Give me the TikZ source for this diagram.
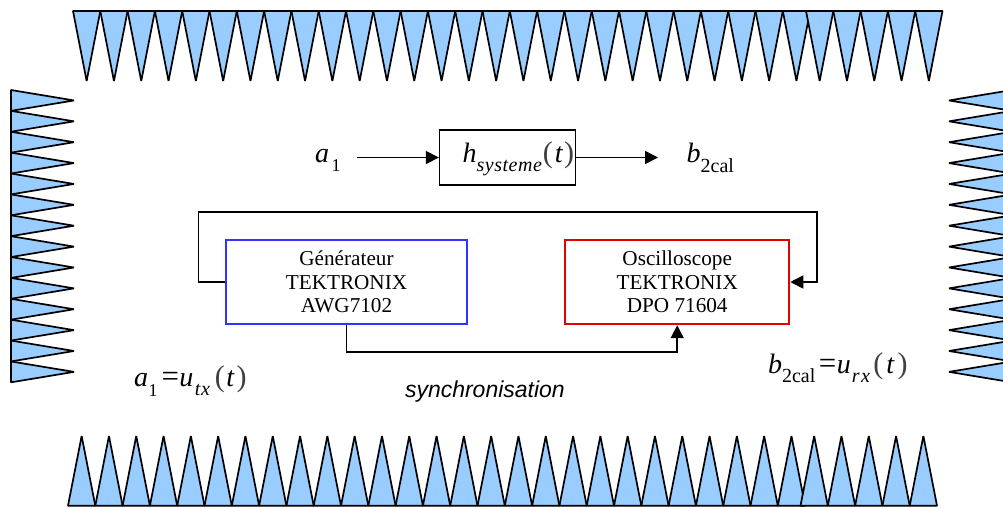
\documentclass[tikz,border=0pt]{standalone}
\usepackage{fontspec}
\setmainfont{Liberation Serif}
\setsansfont{Liberation Sans}
\usetikzlibrary{arrows.meta}
\definecolor{absorb}{HTML}{99CCFF}
\newcommand\mainit{\fontsize{28}{30}\selectfont\itshape}
\newcommand\parm{\fontsize{30}{30}\selectfont\upshape\color{black!75}}
\newcommand\opm{\fontsize{31}{30}\selectfont\upshape}
\newcommand\subu[1]{\lower9.5pt\hbox{\fontsize{18}{20}\selectfont\upshape #1}}
\newcommand\subc{\lower9.5pt\hbox{\fontsize{20}{20}\selectfont\upshape 2cal}}
\newcommand\subi[1]{\lower9pt\hbox{\fontsize{20}{20}\selectfont\itshape #1}}
\tikzset{
  tooth/.style={fill=absorb,draw=black,line width=1.7pt,line join=bevel},
  wire/.style={draw=black,line width=1.6pt},
  arrowed/.style={wire,-{Triangle[length=13pt,width=13pt]}},
  formula/.style={anchor=base west,inner sep=0pt,outer sep=0pt},
  instrument/.style={draw,line width=1.8pt,inner sep=0pt,align=center,
    font=\fontsize{21.2}{23.5}\selectfont},
}
\begin{document}
\begin{tikzpicture}[x=1pt,y=-1pt]
\useasboundingbox (0,0) rectangle (1003,507);
\begin{scope}
\clip (0,0) rectangle (1003,507);
% top row
\foreach \k in {0,...,26} {
  \draw[tooth] ({73+27.3*\k},11) -- ({73+27.3*(\k+1)},11) -- ({73+27.3*(\k+0.5)},81) -- cycle;
}
\foreach \k in {0,...,4} {
  \draw[tooth] ({806+27.3*\k},11) -- ({806+27.3*(\k+1)},11) -- ({806+27.3*(\k+0.5)},81) -- cycle;
}
% bottom row
\foreach \k in {0,...,26} {
  \draw[tooth] ({68+27.3*\k},505.7) -- ({68+27.3*(\k+1)},505.7) -- ({68+27.3*(\k+0.5)},436) -- cycle;
}
\foreach \k in {0,...,4} {
  \draw[tooth] ({800.5+27.3*\k},505.7) -- ({800.5+27.3*(\k+1)},505.7) -- ({800.5+27.3*(\k+0.5)},436) -- cycle;
}
% left and right columns
\foreach \k in {0,...,13} {
  \draw[tooth] (11,{90+20.88*\k}) -- (11,{90+20.88*(\k+1)}) -- (74,{90+20.88*(\k+0.5)}) -- cycle;
  \draw[tooth] (1012,{90+20.88*\k}) -- (1012,{90+20.88*(\k+1)}) -- (949,{90+20.88*(\k+0.5)}) -- cycle;
}
\end{scope}

% system box
\node[draw=black,line width=1.6pt,minimum width=136pt,minimum height=55pt,inner sep=0pt] (sys) at (507.6,157.5) {};
\coordinate (inS) at (356.7,157.5);
\coordinate (outE) at (658,157.5);
\draw[arrowed] (inS) -- (sys.west);
\draw[arrowed] (sys.east) -- (outE);

\node[formula] (la) at (315,162) {\mainit a\kern2.5pt\subu{1}};
\node[formula] (lh) at (462.7,162.5) {\mainit h\kern1pt\subi{\kern-1pt s\kern.5pt y\kern.5pt s\kern.5pt t\kern.5pt e\kern.5pt m\kern.5pt e}\kern1pt{\parm(}\kern2pt t\kern1.5pt{\parm)}};
\node[formula] (lb) at (686.7,162.5) {\mainit b\subc};

% instruments
\node[instrument,draw=blue!80,minimum width=241.6pt,minimum height=84.6pt] (gen) at (346.5,282) {Générateur\\TEKTRONIX\\AWG7102};
\node[instrument,draw=red!90!black,minimum width=224.3pt,minimum height=84.6pt] (osc) at (677.2,282) {Oscilloscope\\TEKTRONIX\\DPO 71604};

\coordinate (lt) at (198.3,212);
\coordinate (rt) at (816.7,212);
\coordinate (low) at (500,351.7);
\draw[arrowed] (gen.west) -| (lt) -- (rt) |- (osc.east);
\draw[arrowed] (gen.south) |- (low) -| (osc.south);

\node[formula] (lu) at (134,386.7) {\mainit a\kern.5pt\subu{1}\kern4pt{\opm=}\kern.5pt u\kern1.5pt\subi{t\kern.5pt x}\kern5pt{\parm(}\kern1.5pt t\kern2.5pt{\parm)}};
\node[formula] (lv) at (768,373) {\mainit b\subc\kern3.5pt{\opm=}\kern.5pt u\kern1pt\subi{r\kern1.5pt x}\kern3.5pt{\parm(}\kern3pt t\kern3.5pt{\parm)}};
\node[formula,font=\sffamily\itshape\fontsize{23}{24}\selectfont] (syn) at (405,397) {synchronisation};
\end{tikzpicture}
\end{document}
